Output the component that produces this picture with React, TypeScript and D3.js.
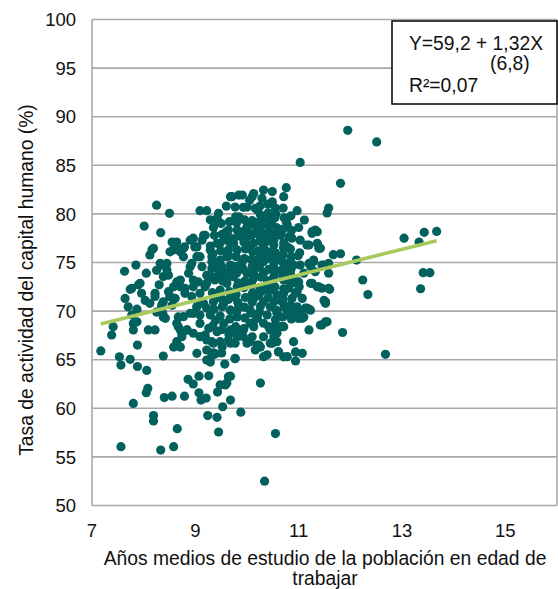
import * as d3 from "d3";

// Scatter: años medios de estudio vs tasa de actividad del capital humano,
// con recta de regresión y recuadro con la ecuación.

const W = 558;
const H = 589;

// [años de estudio, tasa de actividad %]
const puntos: [number, number][] = [
  [7.17, 65.9], [7.38, 67.54], [7.41, 68.4], [7.53, 65.3], [7.56, 64.45], [7.56, 56.05],
  [7.63, 74.1], [7.64, 71.3], [7.7, 70.45], [7.74, 72.24], [7.74, 65.04], [7.77, 72.35],
  [7.77, 69.6], [7.8, 68.73], [7.8, 68.06], [7.8, 60.5], [7.85, 74.74], [7.87, 70.2],
  [7.87, 68.9], [7.88, 66.5], [7.88, 64.3], [7.9, 72.7], [7.93, 72.86], [7.96, 71.83],
  [8.01, 78.75], [8.03, 71.1], [8.05, 73.9], [8.05, 61.6], [8.06, 63.9], [8.08, 62.05],
  [8.09, 68.06], [8.12, 75.77], [8.12, 70.8], [8.16, 76.3], [8.19, 76.46], [8.19, 59.25],
  [8.19, 58.7], [8.22, 71.83], [8.22, 71.5], [8.22, 68.06], [8.25, 80.9], [8.25, 74.2],
  [8.3, 72.7], [8.33, 78.07], [8.33, 55.7], [8.35, 74.74], [8.35, 70.45], [8.37, 69.77],
  [8.38, 73.55], [8.38, 69.4], [8.38, 70.96], [8.38, 65.38], [8.4, 61.1], [8.42, 69.26],
  [8.45, 74.9], [8.48, 73.7], [8.48, 72.0], [8.5, 80.06], [8.51, 71.5], [8.55, 77.1],
  [8.55, 70.6], [8.55, 61.25], [8.58, 76.3], [8.58, 66.3], [8.58, 56.05], [8.61, 71.3],
  [8.64, 77.1], [8.64, 73.0], [8.64, 66.85], [8.65, 57.9], [8.67, 69.4], [8.67, 68.4],
  [8.71, 76.1], [8.71, 72.5], [8.71, 66.3], [8.74, 67.7], [8.74, 67.36], [8.77, 76.46],
  [8.79, 76.6], [8.79, 61.25], [8.8, 71.83], [8.84, 68.06], [8.86, 62.98], [8.87, 73.9],
  [8.93, 74.9], [8.93, 71.5], [8.96, 77.5], [8.96, 73.2], [8.96, 69.77], [8.96, 62.5],
  [8.99, 76.6], [9.03, 75.6], [9.03, 70.45], [9.03, 65.66], [9.06, 73.0], [9.07, 63.3],
  [9.07, 61.6], [9.09, 80.33], [9.09, 69.6], [9.09, 68.73], [9.11, 60.85], [9.13, 77.3],
  [9.13, 74.57], [9.13, 70.96], [9.16, 77.8], [9.19, 72.5], [9.19, 67.54], [9.21, 61.05],
  [9.22, 80.33], [9.22, 73.7], [9.22, 70.3], [9.22, 66.0], [9.22, 64.97], [9.24, 59.25],
  [9.26, 68.23], [9.26, 63.35], [9.29, 79.4], [9.29, 76.7], [9.29, 69.6], [9.29, 64.76],
  [9.32, 75.6], [9.32, 74.4], [9.32, 66.85], [9.32, 65.4], [9.35, 65.7], [9.39, 69.06],
  [9.39, 65.6], [9.42, 79.55], [9.42, 73.55], [9.42, 71.5], [9.42, 67.88], [9.42, 59.07],
  [9.43, 61.67], [9.45, 80.06], [9.45, 79.2], [9.45, 57.56], [9.48, 76.97], [9.48, 75.25],
  [9.48, 72.17], [9.48, 66.85], [9.48, 62.4], [9.51, 65.7], [9.53, 60.16], [9.55, 73.9],
  [9.55, 70.8], [9.55, 68.73], [9.57, 64.55], [9.58, 78.07], [9.58, 62.4], [9.6, 80.8],
  [9.61, 78.17], [9.61, 77.3], [9.61, 72.86], [9.61, 62.6], [9.64, 78.34], [9.64, 67.03],
  [9.64, 63.25], [9.68, 81.77], [9.68, 77.5], [9.68, 74.74], [9.68, 70.1], [9.68, 68.06],
  [9.68, 63.3], [9.68, 60.85], [9.71, 81.77], [9.74, 76.97], [9.74, 73.55], [9.74, 71.5],
  [9.77, 80.7], [9.77, 66.7], [9.77, 65.1], [9.78, 79.7], [9.81, 78.34], [9.81, 72.5],
  [9.81, 69.4], [9.84, 81.94], [9.84, 79.7], [9.84, 70.45], [9.88, 59.6], [9.91, 81.94],
  [9.93, 80.68], [9.93, 67.36], [10.0, 80.7], [10.0, 78.68], [10.0, 77.65], [10.05, 81.4],
  [10.06, 66.85], [10.1, 81.77], [10.13, 82.1], [10.16, 80.58], [10.2, 80.4], [10.2, 78.52],
  [10.26, 79.9], [10.26, 77.65], [10.26, 66.3], [10.26, 62.6], [10.29, 81.6], [10.32, 82.45],
  [10.34, 52.5], [10.39, 78.0], [10.45, 66.7], [10.49, 82.3], [10.49, 81.25], [10.49, 79.37],
  [10.52, 67.36], [10.55, 57.4], [10.58, 78.0], [10.65, 77.8], [10.65, 68.4], [10.71, 81.77],
  [10.71, 76.6], [10.76, 82.7], [10.76, 79.2], [10.78, 78.86], [10.81, 77.65], [10.84, 73.9],
  [10.87, 77.5], [10.9, 74.74], [10.9, 66.85], [10.94, 71.83], [10.97, 80.33], [10.97, 70.45],
  [11.0, 69.25], [11.03, 85.3], [11.03, 77.3], [11.07, 71.3], [11.1, 69.4], [11.11, 79.37],
  [11.16, 76.8], [11.16, 70.3], [11.2, 68.06], [11.23, 72.86], [11.23, 70.1], [11.26, 78.17],
  [11.29, 75.25], [11.32, 78.34], [11.39, 76.46], [11.39, 72.5], [11.45, 68.57], [11.49, 74.74],
  [11.49, 71.1], [11.52, 70.8], [11.55, 80.1], [11.55, 68.9], [11.58, 80.6], [11.58, 73.9],
  [11.58, 72.35], [11.67, 75.8], [11.81, 75.9], [11.81, 83.15], [11.85, 67.8], [11.95, 88.6],
  [12.12, 75.25], [12.24, 73.2], [12.34, 71.7], [12.51, 87.4], [12.68, 65.55], [13.04, 77.5],
  [13.33, 77.1], [13.36, 72.3], [13.41, 73.95], [13.43, 78.1], [13.54, 73.95], [13.67, 78.2],
  // parte derecha del núcleo
  [11.45, 74.74], [11.58, 74.9], [11.29, 75.1], [11.23, 74.6], [11.32, 74.05], [11.1, 73.9],
  [10.87, 72.9], [10.97, 72.0], [11.26, 72.86], [11.36, 72.5], [11.45, 72.35], [11.6, 72.24],
  [11.52, 70.96], [11.2, 70.2], [11.0, 69.77], [11.07, 69.26], [11.52, 68.9], [11.42, 68.57],
  [10.71, 65.3], [10.94, 64.87], [11.07, 65.66], [10.94, 65.8], [10.61, 65.8], [10.39, 65.5],
  [10.16, 66.0], [10.2, 66.5], [10.58, 66.85], [10.32, 67.36], [10.42, 68.4], [10.52, 68.4],
  [10.68, 68.4], [10.06, 70.1], [10.2, 69.26], [10.13, 68.4], [10.1, 67.36], [10.45, 70.45],
  [10.58, 69.77], [10.78, 70.1], [10.84, 70.6], [10.68, 70.96], [11.13, 70.3], [10.13, 71.3],
  [10.26, 72.0], [10.45, 72.17], [10.58, 71.66], [10.71, 71.83], [10.81, 72.35], [10.32, 70.96],
  [10.52, 70.96], [10.9, 73.2], [11.0, 73.0], [10.13, 73.9], [10.32, 73.9], [10.52, 73.55],
  [10.71, 73.2], [10.84, 72.86], [10.13, 75.25], [10.32, 75.1], [10.52, 74.9], [10.68, 75.1],
  [10.84, 75.1], [11.03, 74.74], [11.2, 74.9], [10.13, 76.97], [10.32, 76.6], [10.52, 76.8],
  [10.71, 76.46], [11.2, 76.8], [11.36, 76.97], [11.42, 76.46], [11.26, 78.0], [11.36, 78.17],
  [10.06, 78.0], [10.26, 78.17], [10.45, 78.0], [10.84, 77.65],
  // parte izquierda y centro
  [8.32, 74.92], [8.45, 74.23], [8.58, 76.97], [8.67, 76.29], [8.51, 76.1], [8.77, 75.6],
  [8.9, 77.3], [9.03, 76.6], [9.19, 77.8], [9.09, 75.6], [8.9, 74.57], [8.71, 73.2],
  [8.58, 72.5], [8.51, 71.48], [8.35, 70.63], [8.25, 69.9], [8.8, 72.35], [8.96, 72.5],
  [9.09, 71.83], [9.22, 72.86], [9.32, 73.54], [9.45, 74.23], [9.32, 75.08], [9.29, 76.29],
  [9.42, 76.97], [9.55, 77.66], [9.68, 76.97], [9.61, 75.6], [9.81, 76.29], [9.93, 77.66],
  [10.06, 76.8], [10.19, 78.0], [9.74, 74.57], [9.9, 74.92], [10.0, 73.89], [10.19, 75.26],
  [10.32, 76.29], [10.52, 77.3], [10.61, 75.6], [10.78, 76.6], [10.68, 74.23], [10.49, 73.2],
  [10.32, 72.17], [10.06, 71.48], [9.87, 70.46], [9.68, 70.1], [9.52, 70.46], [9.35, 70.97],
  [9.16, 70.8], [9.03, 70.46], [8.9, 69.78], [8.77, 69.43], [8.64, 68.75], [8.71, 68.06],
  [8.84, 68.06], [8.96, 67.72], [9.09, 67.37], [9.22, 67.03], [9.35, 66.69], [9.52, 66.34],
  [9.68, 66.69], [9.81, 67.37], [9.93, 68.06], [10.06, 68.75], [10.19, 69.43], [10.32, 68.75],
  [10.45, 68.06], [10.58, 67.72], [10.71, 68.4], [10.84, 69.43], [10.49, 66.69], [10.23, 66.5],
  [10.0, 66.69], [9.77, 65.14], [10.32, 65.31], [10.61, 65.82], [10.78, 65.31],
  // núcleo denso
  [9.35, 78.6], [9.37, 77.8], [9.34, 75.9], [9.36, 74.9], [9.38, 73.2], [9.33, 71.9],
  [9.36, 70.2], [9.34, 68.5], [9.5, 79.0], [9.52, 77.9], [9.49, 76.2], [9.51, 74.6],
  [9.53, 73.1], [9.5, 71.3], [9.48, 69.5], [9.52, 68.1], [9.66, 79.2], [9.64, 76.3],
  [9.65, 75.7], [9.67, 74.2], [9.63, 73.4], [9.66, 72.0], [9.64, 71.2], [9.67, 69.2],
  [9.65, 67.6], [9.8, 79.1], [9.82, 77.7], [9.79, 75.6], [9.81, 74.6], [9.8, 73.9],
  [9.83, 72.9], [9.79, 71.7], [9.82, 70.9], [9.8, 69.9], [9.78, 68.4], [9.81, 67.9],
  [9.95, 79.4], [9.96, 78.3], [9.94, 77.1], [9.97, 76.4], [9.95, 75.4], [9.93, 74.3],
  [9.96, 73.1], [9.94, 72.4], [9.97, 71.4], [9.95, 70.4], [9.96, 69.3], [9.94, 68.2],
  [10.1, 79.3], [10.12, 78.9], [10.09, 77.8], [10.11, 76.1], [10.08, 75.3], [10.1, 74.6],
  [10.12, 73.3], [10.09, 72.7], [10.11, 71.9], [10.1, 70.9], [10.08, 69.8], [10.12, 68.8],
  [10.25, 80.8], [10.24, 79.2], [10.27, 78.7], [10.25, 77.2], [10.23, 76.2], [10.26, 75.8],
  [10.24, 74.5], [10.27, 73.5], [10.25, 72.4], [10.23, 71.6], [10.26, 70.5], [10.24, 69.9],
  [10.4, 81.0], [10.41, 80.1], [10.39, 79.4], [10.42, 78.8], [10.4, 77.2], [10.41, 76.1],
  [10.39, 75.4], [10.42, 74.3], [10.4, 73.1], [10.38, 72.6], [10.41, 71.4], [10.39, 69.6],
  [10.55, 80.6], [10.56, 80.0], [10.54, 79.6], [10.57, 78.6], [10.55, 76.0], [10.53, 75.6],
  [10.56, 74.2], [10.54, 72.5], [10.57, 70.1], [10.55, 69.1], [10.7, 80.6], [10.72, 79.6],
  [10.69, 78.4], [10.71, 77.0], [10.7, 75.8], [10.72, 74.6], [10.69, 73.7], [10.71, 72.3],
  [10.7, 71.2], [10.72, 70.4], [10.69, 69.4], [10.85, 79.8], [10.86, 78.3], [10.84, 76.4],
  [10.86, 75.6], [10.85, 74.3], [10.87, 71.3], [10.84, 70.1], [10.86, 69.2], [11.0, 78.6],
  [11.02, 76.0], [10.99, 75.7], [11.01, 72.5], [10.98, 70.0],
];

// recta de regresión Y = 59,2 + 1,32X, entre el mínimo y el máximo de X
const intercepto = 59.2;
const pendiente = 1.32;
const tramoX = d3.extent(puntos, (p) => p[0]) as [number, number];

const ticksX = [7, 9, 11, 13, 15];
const ticksY = [50, 55, 60, 65, 70, 75, 80, 85, 90, 95, 100];

const FONT = "'Liberation Sans', Arial, sans-serif";
const TEAL = "#02605d";
const VERDE = "#a9c85e";
const GRID = "#a9a9a9";

export default function App() {
  const x = d3.scaleLinear().domain([7, 16]).range([92, 557]);
  const y = d3.scaleLinear().domain([50, 100]).range([505.5, 19.5]);

  const recta = d3
    .line<number>()
    .x((v) => x(v))
    .y((v) => y(intercepto + pendiente * v));

  return (
    <svg
      width={W}
      height={H}
      viewBox={`0 0 ${W} ${H}`}
      style={{ position: "absolute", left: 0, top: 0, background: "#fff" }}
      fontFamily={FONT}
    >
      {/* rejilla horizontal */}
      {ticksY.map((t) => (
        <line
          key={t}
          x1={x(7)}
          x2={x(16)}
          y1={y(t)}
          y2={y(t)}
          stroke={GRID}
          strokeWidth={1.6}
        />
      ))}
      {/* marco del área de trazado */}
      <line x1={x(7)} x2={x(7)} y1={y(100)} y2={y(50)} stroke={GRID} strokeWidth={1.6} />
      <line x1={x(16)} x2={x(16)} y1={y(100)} y2={y(50)} stroke={GRID} strokeWidth={1.6} />

      {ticksY.map((t) => (
        <text
          key={t}
          x={76}
          y={y(t)}
          dy="0.36em"
          textAnchor="end"
          fontSize={18.5}
          fill="#111"
        >
          {t}
        </text>
      ))}
      {ticksX.map((t) => (
        <text key={t} x={x(t)} y={537} textAnchor="middle" fontSize={18.5} fill="#111">
          {t}
        </text>
      ))}

      {puntos.map(([px, py], i) => (
        <circle key={i} cx={x(px)} cy={y(py)} r={4.6} fill={TEAL} />
      ))}

      <path d={recta(tramoX) ?? ""} stroke={VERDE} strokeWidth={3.6} fill="none" />

      {/* recuadro con la ecuación */}
      <rect x={392} y={21} width={165} height={83} fill="#fff" stroke="#000" strokeWidth={1.5} />
      <text x={409} y={50} fontSize={19.3} fill="#111">
        Y=59,2 + 1,32X
      </text>
      <text x={490} y={70} fontSize={19.3} fill="#111">
        (6,8)
      </text>
      <text x={409} y={92} fontSize={19.3} fill="#111">
        R²=0,07
      </text>

      {/* títulos de ejes */}
      <text
        transform={`translate(33, 280) rotate(-90)`}
        textAnchor="middle"
        fontSize={19.3}
        fill="#111"
      >
        Tasa de actividad del capital humano (%)
      </text>
      <text x={325} y={565} textAnchor="middle" fontSize={19.3} fill="#111">
        Años medios de estudio de la población en edad de
      </text>
      <text x={325} y={585} textAnchor="middle" fontSize={19.3} fill="#111">
        trabajar
      </text>
    </svg>
  );
}
